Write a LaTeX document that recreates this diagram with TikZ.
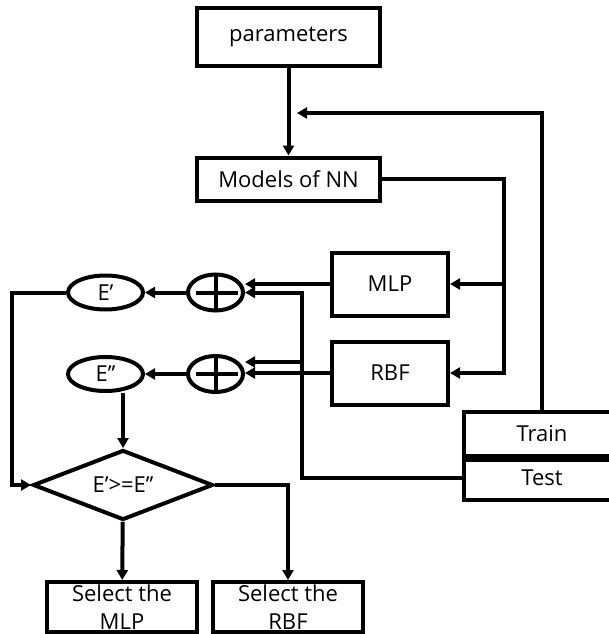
\documentclass[tikz,border=0pt]{standalone}
\usepackage{fontspec}
\setmainfont{Open Sans}
\usetikzlibrary{arrows.meta,shapes.geometric,calc}

\begin{document}
\begin{tikzpicture}[x=1pt,y=-1pt,line width=4pt,
    box/.style={draw,rectangle,inner sep=0pt,align=center},
    oval/.style={draw,ellipse,inner sep=0pt,minimum width=75pt,minimum height=34pt},
    adder/.style={draw,ellipse,inner sep=0pt,minimum width=55pt,minimum height=36pt,
      path picture={\draw ([xshift=8pt]path picture bounding box.west) -- ([xshift=-5pt]path picture bounding box.east)
        (path picture bounding box.north) -- (path picture bounding box.south);}},
    arr/.style={-{Triangle[length=10pt,width=11pt]}},
    font=\fontsize{22}{28}\selectfont]
  \useasboundingbox (0,0) rectangle (609,634);
  \clip (0,0) rectangle (609,634);
  % blocks
  \node[box,minimum width=183pt,minimum height=58pt] (params) at (288.5,37) {parameters};
  \node[box,minimum width=183pt,minimum height=43pt] (models) at (288.5,179) {Models of NN};
  \node[box,minimum width=116pt,minimum height=63pt] (mlp) at (390,284) {MLP};
  \node[box,minimum width=116pt,minimum height=63pt] (rbf) at (390,373) {RBF};
  \node[adder] (sum1) at (215.5,292.5) {};
  \node[adder] (sum2) at (215.5,374) {};
  \node[oval] (e1) at (105.5,292.5) {E’};
  \node[oval] (e2) at (105.5,374) {E’’};
  \node[draw,diamond,aspect=2.6,minimum width=180pt,minimum height=70pt,inner sep=0pt] (cmp) at (123,485) {E’>=E’’};
  \node[box,minimum width=150pt,minimum height=50pt] (selmlp) at (122,607) {Select the\\MLP};
  \node[box,minimum width=150pt,minimum height=50pt] (selrbf) at (288,607) {Select the\\RBF};
  \node[box,minimum width=156pt,minimum height=44pt] (train) at (542,434) {Train};
  \node[box,minimum width=156pt,minimum height=44pt] (test) at (542,478) {Test};
  \draw[line width=7pt] (train.south west) -- (train.south east);
  % junctions
  \coordinate (fb) at (297,113);
  \coordinate (split) at (504,284);
  \coordinate (tjoin) at (302,362);
  \coordinate (lft) at (12,292.5);
  % connectors
  \draw[arr] (params) -- (models);
  \draw[arr] (train.north) |- (fb);
  \draw[arr] (models.east) -| (split) |- (rbf.east);
  \draw[arr] (split) -- (mlp.east);
  \draw[arr] (mlp.west) -- (mlp.west -| sum1.east);
  \draw[arr] (test.west) -| (tjoin) |- (sum1.east);
  \draw[arr] (tjoin) -- (tjoin -| sum2.east);
  \draw[arr] (rbf.west) -- (rbf.west -| sum2.east);
  \draw[arr] (sum1) -- (e1);
  \draw[arr] (sum2) -- (e2);
  \draw[arr] (e1.west) -- (lft) |- (cmp.west);
  \draw[arr] (e2.south -| cmp.north) -- (cmp.north);
  \draw[arr] (cmp) -- (selmlp);
  \draw[arr] (cmp.east) -| (selrbf.north);
\end{tikzpicture}
\end{document}
